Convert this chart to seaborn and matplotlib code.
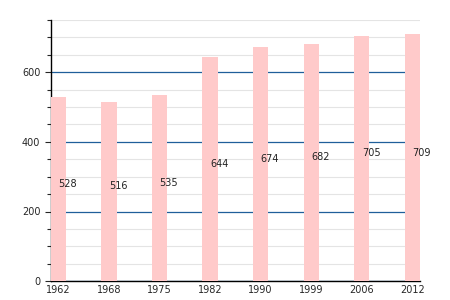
import matplotlib
matplotlib.use("Agg")
import matplotlib.pyplot as plt
import seaborn as sns
import pandas as pd
from matplotlib.ticker import MultipleLocator

years = ["1962", "1968", "1975", "1982", "1990", "1999", "2006", "2012"]
values = [528, 516, 535, 644, 674, 682, 705, 709]

df = pd.DataFrame({"year": years, "value": values})

sns.set_style("white")
plt.rcParams['font.family'] = ['DejaVu Sans']

fig = plt.figure(figsize=(4.5, 3), dpi=100)
ax = fig.add_axes([0.113, 0.063, 0.82, 0.87])

sns.barplot(data=df, x="year", y="value", color="#ffcaca", saturation=1,
            width=0.3, ax=ax, zorder=3, edgecolor="none")

ax.set_ylim(0, 750)
ax.set_xlim(-0.15, 7.15)
ax.yaxis.set_major_locator(MultipleLocator(200))
ax.yaxis.set_minor_locator(MultipleLocator(50))
ax.grid(which="minor", axis="y", color="#e4e4e4", linewidth=0.8, zorder=0)
ax.grid(which="major", axis="y", color="#1f5f9a", linewidth=0.9, zorder=1)
ax.set_axisbelow(True)

for i, v in enumerate(values):
    ax.text(i, v / 2, str(v), ha="left", va="bottom", fontsize=7, color="#222222", zorder=5)

for s in ["top", "right"]:
    ax.spines[s].set_visible(False)
ax.spines["left"].set_color("black")
ax.spines["bottom"].set_color("black")
ax.spines["left"].set_linewidth(1)
ax.spines["bottom"].set_linewidth(1)

ax.tick_params(axis="y", which="major", length=4, width=0.8, labelsize=7, direction="out", left=True)
ax.tick_params(axis="y", which="minor", length=3, width=0.8, direction="out", left=True)
ax.tick_params(axis="x", length=0, labelsize=7, pad=3)
ax.set_xlabel("")
ax.set_ylabel("")

fig.savefig("out.png", dpi=100)
